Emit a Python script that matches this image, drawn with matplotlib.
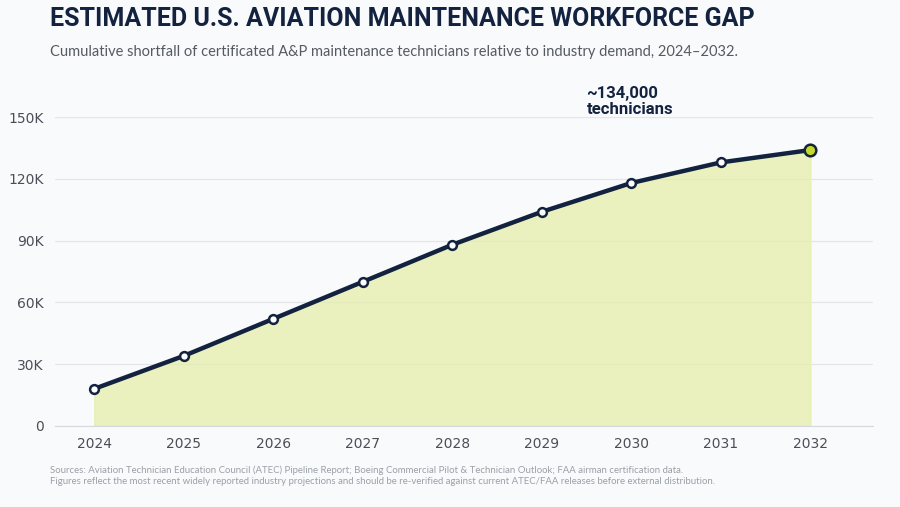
import matplotlib.pyplot as plt

years = [2024, 2025, 2026, 2027, 2028, 2029, 2030, 2031, 2032]
gap = [18000, 34000, 52000, 70000, 88000, 104000, 118000, 128000, 134000]
yticks = [0, 30000, 60000, 90000, 120000, 150000]
ytick_labels = ['0', '30K', '60K', '90K', '120K', '150K']

bg = '#f9fafc'
navy = '#13233f'
fig = plt.figure(figsize=(9, 5.07), dpi=100, facecolor=bg)
ax = fig.add_axes([0.061, 0.160, 0.909, 0.609], facecolor=bg)

ax.fill_between(years, gap, color='#e5eeaa', alpha=0.75, zorder=1)
ax.plot(years, gap, color=navy, linewidth=3.2, zorder=3)
ax.scatter(years[:-1], gap[:-1], s=40, color='white', edgecolor=navy, linewidth=1.8, zorder=4)
ax.scatter(years[-1:], gap[-1:], s=70, color='#c5d92a', edgecolor=navy, linewidth=1.8, zorder=5)

ax.set_xlim(2023.56, 2032.7)
ax.set_ylim(0, 150000)
ax.set_xticks(years)
ax.set_yticks(yticks)
ax.set_yticklabels(ytick_labels)
ax.grid(axis='y', color='#e2e5ea', linewidth=0.9)
ax.set_axisbelow(True)
for s in ['top', 'right', 'left']:
    ax.spines[s].set_visible(False)
ax.spines['bottom'].set_color('#d5d9df')
ax.tick_params(axis='both', length=0, labelsize=10, colors='#4a4f57', pad=8)

ax.annotate('~134,000\ntechnicians', xy=(2029.5, 150000), xytext=(0, 0), textcoords='offset points',
            fontsize=12, fontweight='bold', color=navy, ha='left', va='bottom',
            family='Roboto', annotation_clip=False, linespacing=1.1)

fig.text(0.055, 0.962, 'ESTIMATED U.S. AVIATION MAINTENANCE WORKFORCE GAP', fontsize=18,
         fontweight='bold', color=navy, family='Roboto', va='center')
fig.text(0.055, 0.897, 'Cumulative shortfall of certificated A&P maintenance technicians relative to industry demand, 2024\u20132032.',
         fontsize=10.5, color='#555a63', family='Lato', va='center')
fig.text(0.055, 0.062, 'Sources: Aviation Technician Education Council (ATEC) Pipeline Report; Boeing Commercial Pilot & Technician Outlook; FAA airman certification data.\n'
         'Figures reflect the most recent widely reported industry projections and should be re-verified against current ATEC/FAA releases before external distribution.',
         fontsize=6.9, color='#9aa0a8', family='Lato', va='center', linespacing=1.2)

fig.savefig('out.png', dpi=100, facecolor=bg)
